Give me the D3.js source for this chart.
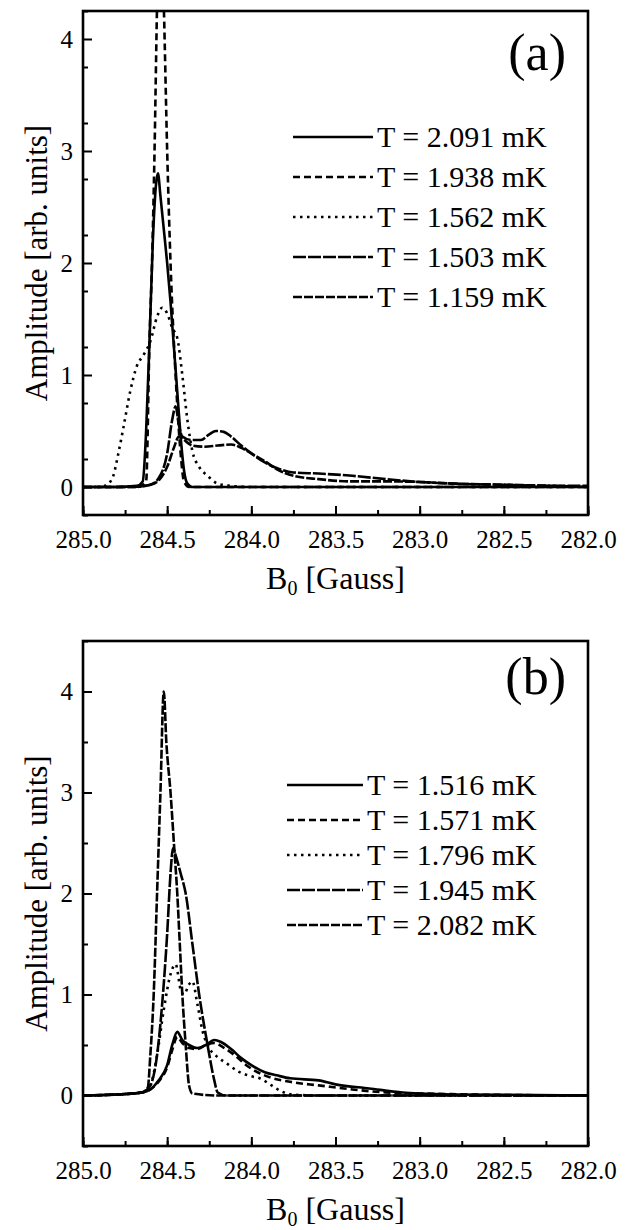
<!DOCTYPE html>
<html>
<head>
<meta charset="utf-8">
<script src="https://cdn.jsdelivr.net/npm/d3@7/dist/d3.min.js"></script>
<style>
  text, tspan { font-family: "Liberation Serif", "Times New Roman", Times; }
</style>
</head>
<body style="margin:0;background:#fff">
<div class="chart"></div>
<script>
// ---- data (B0 in Gauss, amplitude in arb. units) ----
const xTicks = [285.0, 284.5, 284.0, 283.5, 283.0, 282.5, 282.0];
const yTicks = [0, 1, 2, 3, 4];

// panel (a)
const labelsA = ["T = 2.091 mK", "T = 1.938 mK", "T = 1.562 mK", "T = 1.503 mK", "T = 1.159 mK"];
const a2091 = [[285.0,0],[284.8,0],[284.68,0.01],[284.645,0.05],[284.625,0.5],[284.605,1.3],[284.585,2.2],[284.565,2.72],[284.555,2.8],[284.54,2.6],[284.52,2.3],[284.5,2.0],[284.48,1.65],[284.46,1.25],[284.44,0.85],[284.42,0.45],[284.4,0.15],[284.38,0.03],[284.35,0],[284.0,0],[283.0,0],[282.0,0]];
const a1938 = [[285.0,0],[284.8,0],[284.66,0.01],[284.625,0.05],[284.605,1.3],[284.59,2.0],[284.575,3.0],[284.56,4.3],[284.54,5.2],[284.52,4.3],[284.5,3.0],[284.48,2.0],[284.45,1.0],[284.42,0.3],[284.4,0.05],[284.37,0],[284.0,0],[283.0,0],[282.0,0]];
const a1562 = [[285.0,0],[284.9,0],[284.85,0.03],[284.82,0.1],[284.79,0.3],[284.76,0.53],[284.72,0.85],[284.68,1.08],[284.64,1.18],[284.6,1.3],[284.56,1.52],[284.53,1.6],[284.5,1.55],[284.47,1.42],[284.44,1.33],[284.41,1.0],[284.38,0.6],[284.35,0.32],[284.31,0.18],[284.26,0.1],[284.2,0.03],[284.12,0.01],[284.0,0],[283.0,0],[282.0,0]];
const a1503 = [[285.0,0],[284.7,0],[284.6,0.02],[284.55,0.08],[284.5,0.3],[284.47,0.6],[284.45,0.72],[284.43,0.55],[284.41,0.45],[284.36,0.42],[284.3,0.42],[284.25,0.47],[284.21,0.5],[284.16,0.49],[284.12,0.45],[284.06,0.37],[284.0,0.3],[283.92,0.22],[283.85,0.17],[283.75,0.13],[283.6,0.12],[283.4,0.1],[283.2,0.07],[283.0,0.045],[282.8,0.03],[282.5,0.02],[282.2,0.01],[282.0,0.01]];
const a1159 = [[285.0,0],[284.7,0],[284.6,0.02],[284.55,0.06],[284.5,0.18],[284.46,0.35],[284.43,0.45],[284.4,0.42],[284.35,0.37],[284.28,0.36],[284.2,0.37],[284.12,0.38],[284.06,0.35],[284.0,0.3],[283.92,0.23],[283.85,0.16],[283.75,0.1],[283.6,0.07],[283.4,0.05],[283.2,0.05],[283.0,0.045],[282.8,0.03],[282.5,0.02],[282.2,0.01],[282.0,0]];

// panel (b)
const labelsB = ["T = 1.516 mK", "T = 1.571 mK", "T = 1.796 mK", "T = 1.945 mK", "T = 2.082 mK"];
const b1516 = [[285.0,0],[284.8,0.01],[284.65,0.03],[284.6,0.06],[284.55,0.15],[284.5,0.3],[284.47,0.5],[284.44,0.63],[284.41,0.55],[284.37,0.5],[284.32,0.47],[284.27,0.5],[284.22,0.55],[284.18,0.53],[284.12,0.46],[284.06,0.37],[284.0,0.3],[283.92,0.23],[283.85,0.2],[283.77,0.17],[283.6,0.15],[283.5,0.11],[283.3,0.07],[283.1,0.03],[283.0,0.02],[282.8,0.01],[282.0,0]];
const b1571 = [[285.0,0],[284.8,0.01],[284.65,0.03],[284.6,0.06],[284.55,0.14],[284.5,0.28],[284.47,0.45],[284.44,0.58],[284.41,0.52],[284.37,0.47],[284.32,0.46],[284.27,0.5],[284.22,0.52],[284.17,0.48],[284.1,0.4],[284.03,0.3],[283.95,0.22],[283.87,0.17],[283.75,0.13],[283.6,0.1],[283.4,0.06],[283.2,0.03],[283.0,0.02],[282.7,0.01],[282.0,0]];
const b1796 = [[285.0,0],[284.8,0.01],[284.65,0.03],[284.6,0.1],[284.56,0.4],[284.52,0.85],[284.48,1.2],[284.45,1.3],[284.42,1.05],[284.4,1.0],[284.37,1.1],[284.35,1.13],[284.32,0.9],[284.29,0.64],[284.25,0.47],[284.2,0.38],[284.14,0.31],[284.08,0.24],[284.0,0.19],[283.95,0.17],[283.88,0.1],[283.82,0.04],[283.76,0.01],[283.6,0],[283.0,0],[282.0,0]];
const b1945 = [[285.0,0],[284.8,0.01],[284.65,0.03],[284.6,0.1],[284.56,0.4],[284.53,0.9],[284.5,1.6],[284.48,2.2],[284.465,2.45],[284.45,2.38],[284.42,2.2],[284.39,2.0],[284.35,1.5],[284.31,1.0],[284.26,0.5],[284.22,0.15],[284.2,0.03],[284.15,0],[283.0,0],[282.0,0]];
const b2082 = [[285.0,0],[284.8,0.01],[284.65,0.03],[284.615,0.08],[284.6,0.4],[284.58,1.0],[284.56,2.0],[284.54,3.0],[284.52,4.0],[284.505,3.5],[284.48,3.0],[284.46,2.5],[284.44,2.0],[284.425,1.5],[284.41,1.0],[284.39,0.5],[284.37,0.1],[284.35,0.02],[284.2,0],[283.0,0],[282.0,0]];

const width = 629, height = 1230;
const serif = "Liberation Serif";

const svg = d3.select(".chart").append("svg")
    .attr("width", width)
    .attr("height", height)
    .attr("font-family", serif);

const dashes = [null, "7,4", "2.5,4.5", "13,2", "9,2"];

// set the font on the text element itself
function label(sel, size) {
    return sel.attr("font-family", serif)
        .style("font-family", '"Liberation Serif"')
        .attr("font-size", size);
}

function drawPanel(p) {
    const x = d3.scaleLinear().domain([285, 282]).range([p.left, p.right]);
    const y = d3.scaleLinear().domain(p.yDomain).range([p.bottom, p.top]);

    svg.append("clipPath").attr("id", "clip-" + p.name)
        .append("rect")
        .attr("x", p.left).attr("y", p.top)
        .attr("width", p.right - p.left).attr("height", p.bottom - p.top);

    const line = d3.line()
        .x(d => x(d[0]))
        .y(d => y(d[1]))
        .curve(d3.curveMonotoneX);

    const plot = svg.append("g").attr("clip-path", "url(#clip-" + p.name + ")");
    p.series.forEach((s, i) => {
        plot.append("path")
            .datum(s)
            .attr("d", line)
            .attr("fill", "none")
            .attr("stroke", "#000")
            .attr("stroke-width", 2.6)
            .attr("stroke-linejoin", "round")
            .attr("stroke-dasharray", dashes[i]);
    });

    // minor ticks
    const xMinor = d3.range(0, 13).map(i => 285 - i * 0.25);
    const yMinor = d3.range(p.yDomain[0], p.yDomain[1] + 0.01, 0.5);

    svg.append("g")
        .attr("transform", `translate(0,${p.bottom})`)
        .call(d3.axisBottom(x).tickValues(xMinor).tickSize(-5).tickFormat(""))
        .call(g => g.select(".domain").remove())
        .call(g => g.selectAll("line").attr("stroke-width", 2));

    svg.append("g")
        .attr("transform", `translate(${p.left},0)`)
        .call(d3.axisLeft(y).tickValues(yMinor).tickSize(-5).tickFormat(""))
        .call(g => g.select(".domain").remove())
        .call(g => g.selectAll("line").attr("stroke-width", 2));

    // major ticks + labels
    svg.append("g")
        .attr("transform", `translate(0,${p.bottom})`)
        .call(d3.axisBottom(x).tickValues(xTicks).tickSize(-9).tickPadding(15).tickFormat(d3.format(".1f")))
        .call(g => g.select(".domain").remove())
        .call(g => g.selectAll("line").attr("stroke-width", 2))
        .attr("font-family", serif)
        .call(g => label(g.selectAll("text"), 25));

    svg.append("g")
        .attr("transform", `translate(${p.left},0)`)
        .call(d3.axisLeft(y).tickValues(yTicks).tickSize(-9).tickPadding(10).tickFormat(d3.format("d")))
        .call(g => g.select(".domain").remove())
        .call(g => g.selectAll("line").attr("stroke-width", 2))
        .attr("font-family", serif)
        .call(g => label(g.selectAll("text"), 25));

    // frame
    svg.append("rect")
        .attr("x", p.left).attr("y", p.top)
        .attr("width", p.right - p.left).attr("height", p.bottom - p.top)
        .attr("fill", "none")
        .attr("stroke", "#000")
        .attr("stroke-width", 2.6);

    // panel letter
    label(svg.append("text"), 52)
        .attr("x", 566).attr("y", p.letterY)
        .attr("text-anchor", "end")
        .text(p.letter);

    // legend
    const leg = svg.append("g");
    p.labels.forEach((t, i) => {
        const cy = p.legY + i * p.legStep;
        leg.append("line")
            .attr("x1", p.legX1).attr("x2", p.legX2)
            .attr("y1", cy).attr("y2", cy)
            .attr("stroke", "#000")
            .attr("stroke-width", 2.6)
            .attr("stroke-dasharray", dashes[i]);
        label(leg.append("text"), 30)
            .attr("x", p.legX2 + 4).attr("y", cy + 10)
            .text(t);
    });

    // axis titles
    label(svg.append("text"), 31)
        .attr("transform", `translate(47,${(p.top + p.bottom) / 2}) rotate(-90)`)
        .attr("text-anchor", "middle")
        .text("Amplitude [arb. units]");

    const xt = label(svg.append("text"), 32)
        .attr("x", (p.left + p.right) / 2)
        .attr("y", p.bottom + 74)
        .attr("text-anchor", "middle");
    xt.append("tspan").text("B");
    xt.append("tspan").attr("dy", 6).attr("font-size", 20).text("0");
    xt.append("tspan").attr("dy", -6).text(" [Gauss]");
}

drawPanel({
    name: "a", letter: "(a)", letterY: 70,
    left: 83, right: 588, top: 11, bottom: 515,
    yDomain: [-0.25, 4.25],
    series: [a2091, a1938, a1562, a1503, a1159],
    labels: labelsA,
    legX1: 293, legX2: 373, legY: 137, legStep: 40
});

drawPanel({
    name: "b", letter: "(b)", letterY: 694,
    left: 83, right: 588, top: 641, bottom: 1146,
    yDomain: [-0.5, 4.5],
    series: [b1516, b1571, b1796, b1945, b2082],
    labels: labelsB,
    legX1: 287, legX2: 363, legY: 785, legStep: 35
});
</script>
</body>
</html>
